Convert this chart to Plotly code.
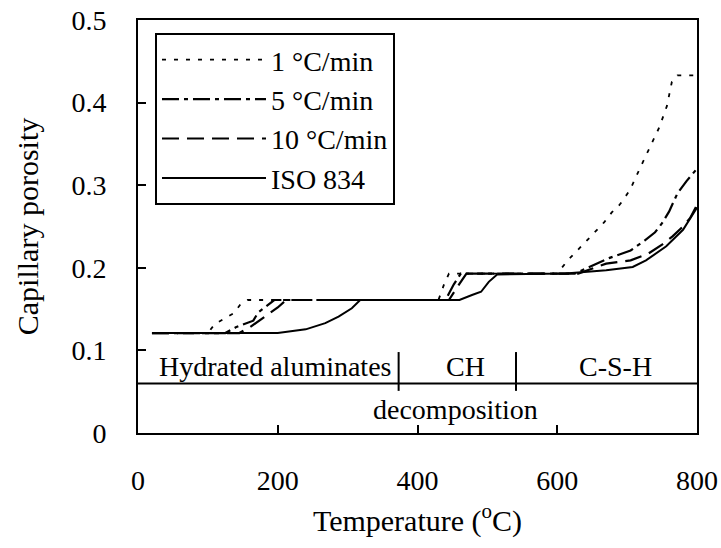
import plotly.graph_objects as go

# ---- data (temperature in °C, capillary porosity) ----
t_1 = [20, 100, 110, 137, 146, 157, 430, 438, 445, 600, 615, 627, 648, 667, 678, 689, 704, 717, 732, 746, 757, 764, 772, 795]
p_1 = [0.121, 0.121, 0.132, 0.145, 0.155, 0.161, 0.161, 0.180, 0.193, 0.193, 0.209, 0.220, 0.238, 0.255, 0.267, 0.276, 0.294, 0.318, 0.345, 0.370, 0.396, 0.425, 0.433, 0.433]

t_5 = [20, 125, 140, 165, 172, 195, 440, 452, 462, 625, 675, 705, 725, 740, 750, 760, 772, 785, 800]
p_5 = [0.121, 0.121, 0.128, 0.136, 0.146, 0.161, 0.161, 0.180, 0.193, 0.193, 0.212, 0.221, 0.233, 0.243, 0.254, 0.268, 0.290, 0.305, 0.320]

t_10 = [20, 145, 160, 180, 200, 212, 445, 458, 470, 630, 670, 705, 730, 750, 765, 780, 790, 800]
p_10 = [0.121, 0.121, 0.128, 0.140, 0.152, 0.161, 0.161, 0.178, 0.193, 0.193, 0.205, 0.209, 0.217, 0.228, 0.238, 0.250, 0.260, 0.276]

t_iso = [20, 200, 240, 268, 287, 306, 318, 460, 478, 491, 502, 514, 612, 670, 708, 727, 756, 780, 800]
p_iso = [0.121, 0.121, 0.1255, 0.133, 0.141, 0.151, 0.161, 0.161, 0.167, 0.171, 0.183, 0.192, 0.193, 0.197, 0.201, 0.209, 0.226, 0.246, 0.273]

series_names = ["1 °C/min", "5 °C/min", "10 °C/min", "ISO 834"]

# decomposition zones
zone_bounds = [0, 373, 541, 800]
zone_labels = ["Hydrated aluminates", "CH", "C-S-H"]
zone_label_x = [196, 468, 684]
band_line_y = 0.06
band_text_y = 0.08
decomp_label = "decomposition"
decomp_x = 455
decomp_y = 0.028

FONT = "Liberation Serif, Times New Roman, serif"

fig = go.Figure()
styles = [
    dict(dash="4px,8px", width=1.8),
    dict(dash="17px,5px,4px,5px", width=2.2),
    dict(dash="17px,8px", width=2.2),
    dict(dash="solid", width=2),
]
for i, (t, p) in enumerate([(t_1, p_1), (t_5, p_5), (t_10, p_10), (t_iso, p_iso)]):
    fig.add_trace(go.Scatter(
        x=t, y=p, mode="lines", name=series_names[i], legendgroup=f"g{i}",
        line=dict(color="black", **styles[i]),
    ))

# band shapes
fig.add_shape(type="line", xref="x", yref="y", x0=zone_bounds[0], x1=zone_bounds[-1],
              y0=band_line_y, y1=band_line_y, line=dict(color="black", width=2))
for b in zone_bounds[1:-1]:
    fig.add_shape(type="line", xref="x", yref="y", x0=b, x1=b, y0=0.051, y1=0.098,
                  line=dict(color="black", width=2))
for i, lab in enumerate(zone_labels):
    fig.add_annotation(x=zone_label_x[i], y=band_text_y, text=lab,
                       showarrow=False, xref="x", yref="y",
                       font=dict(family=FONT, size=28, color="black"))
fig.add_annotation(x=decomp_x, y=decomp_y, text=decomp_label, showarrow=False, xref="x", yref="y",
                   font=dict(family=FONT, size=28, color="black"))

fig.update_layout(
    width=721, height=548,
    margin=dict(l=138, r=24, t=20, b=115),
    paper_bgcolor="white", plot_bgcolor="white",
    font=dict(family=FONT, size=28, color="black"),
    showlegend=True,
    legend=dict(
        x=0.0304, y=0.9685, xanchor="left", yanchor="top",
        bordercolor="black", borderwidth=2, bgcolor="white",
        font=dict(family=FONT, size=28, color="black"),
        tracegroupgap=0, itemwidth=104, traceorder="grouped",
    ),
    xaxis=dict(
        range=[0, 800], tickvals=[0, 200, 400, 600, 800], ticks="inside", ticklen=8,
        tickwidth=2, tickcolor="black", showline=True, linecolor="black", linewidth=2,
        mirror=True, showgrid=False, zeroline=False, ticklabelstandoff=21,
        automargin=False,
        tickfont=dict(family=FONT, size=28),
        title=dict(text="Temperature (<sup>o</sup>C)", standoff=15,
                   font=dict(family=FONT, size=30)),
    ),
    yaxis=dict(
        range=[0, 0.5], tickvals=[0, 0.1, 0.2, 0.3, 0.4, 0.5],
        ticktext=["0", "0.1", "0.2", "0.3", "0.4", "0.5"],
        ticks="inside", ticklen=8, tickwidth=2, tickcolor="black",
        showline=True, linecolor="black", linewidth=2, mirror=True,
        showgrid=False, zeroline=False, ticklabelstandoff=24,
        automargin=False,
        tickfont=dict(family=FONT, size=28),
        title=dict(text="Capillary porosity", standoff=24,
                   font=dict(family=FONT, size=30)),
    ),
)

fig.write_html("out.html")
